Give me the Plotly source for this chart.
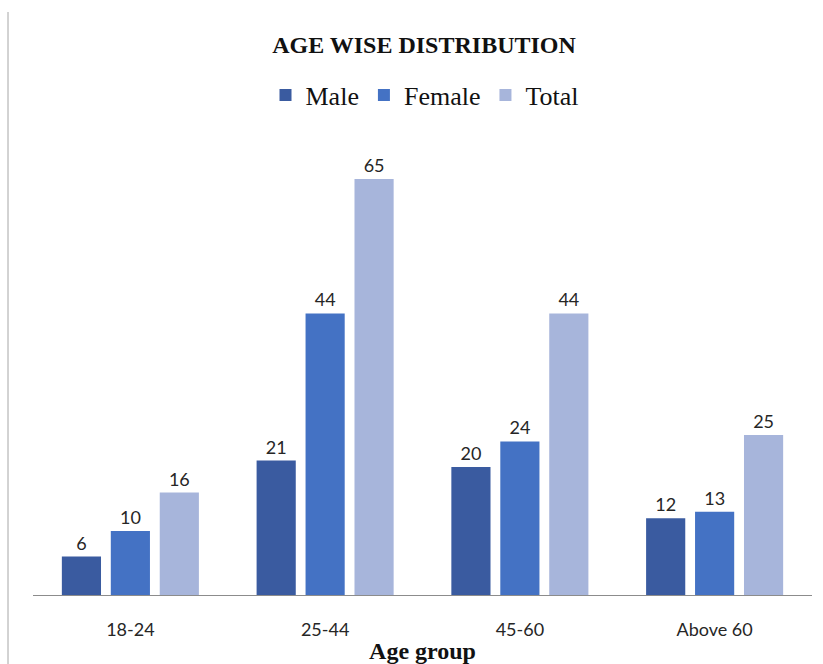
import plotly.graph_objects as go

# Age-wise counts by gender
age_groups = ["18-24", "25-44", "45-60", "Above 60"]
male = [6, 21, 20, 12]
female = [10, 44, 24, 13]
total = [16, 65, 44, 25]

W, H = 823, 664
ML, MR, MT, MB = 33, 11, 147, 69
plot_w = W - ML - MR
plot_h = H - MT - MB

label_font = dict(family="Lato, Open Sans, sans-serif", size=18, color="#262626")
serif = "Liberation Serif, Times New Roman, serif"

fig = go.Figure()
for name, vals, col in [("Male", male, "#3A5BA0"),
                        ("Female", female, "#4472C4"),
                        ("Total", total, "#A7B5DB")]:
    fig.add_trace(go.Bar(
        x=age_groups, y=vals, name=name,
        marker=dict(color=col, line=dict(width=0)),
        text=[str(v) for v in vals],
        textposition="outside",
        textfont=label_font,
        cliponaxis=False,
    ))

# Left chart-border line
fig.add_shape(type="line", xref="paper", yref="paper",
              x0=(8 - ML) / plot_w, x1=(8 - ML) / plot_w,
              y0=(H - MB - 12) / plot_h, y1=(H - MB - H) / plot_h,
              line=dict(color="#A6A6A6", width=1))

fig.update_layout(
    width=W, height=H,
    margin=dict(l=ML, r=MR, t=MT, b=MB, autoexpand=False),
    paper_bgcolor="white", plot_bgcolor="white",
    barmode="group", bargap=0.246, bargroupgap=0.2,
    title=dict(text="<b>AGE WISE DISTRIBUTION</b>",
               font=dict(family=serif, size=24, color="#111111"),
               x=424 / W, xanchor="center", xref="container",
               y=1 - 45 / H, yanchor="middle", yref="container"),
    legend=dict(orientation="h", x=425 / W, xanchor="center", xref="container",
                y=1 - 95 / H, yanchor="middle", yref="container",
                font=dict(family=serif, size=26, color="#111111"),
                itemwidth=30, traceorder="normal"),
    xaxis=dict(showline=True, linecolor="#8C8C8C", linewidth=1, automargin=False,
               ticks="outside", ticklen=18, tickcolor="rgba(0,0,0,0)",
               tickfont=label_font,
               title=dict(text="<b>Age group</b>", standoff=8,
                          font=dict(family=serif, size=24, color="#111111"))),
    yaxis=dict(visible=False, range=[0, 70], showgrid=False, zeroline=False),
)

fig.write_html("out.html")
